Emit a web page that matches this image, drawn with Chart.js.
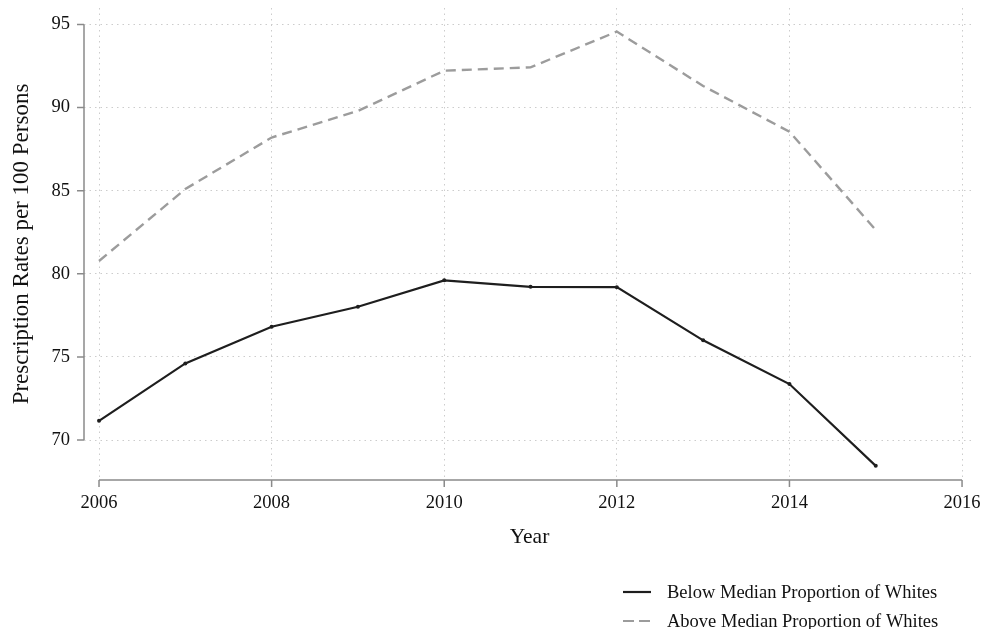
<!DOCTYPE html>
<html>
<head>
<meta charset="utf-8">
<script src="https://cdn.jsdelivr.net/npm/chart.js@4/dist/chart.umd.min.js"></script>
<style>
  html, body { margin: 0; padding: 0; background: #fff; }
  #wrap { width: 981px; height: 629px; position: relative; }
</style>
</head>
<body>
<div id="wrap"><canvas id="c" width="981" height="629"></canvas></div>
<script>
// Prescription rates per 100 persons, by county group
const years = [2006, 2007, 2008, 2009, 2010, 2011, 2012, 2013, 2014, 2015];
const belowMedian = [71.16, 74.61, 76.82, 78.02, 79.61, 79.22, 79.20, 76.00, 73.37, 68.45];
const aboveMedian = [80.77, 85.10, 88.20, 89.80, 92.22, 92.42, 94.57, 91.30, 88.55, 82.64];
const xTicks = [2006, 2008, 2010, 2012, 2014, 2016];
const yTicks = [70, 75, 80, 85, 90, 95];
const seriesNames = ['Below Median Proportion of Whites', 'Above Median Proportion of Whites'];
const xTitle = 'Year';
const yTitle = 'Prescription Rates per 100 Persons';

const SERIF = '"Liberation Serif", "Times New Roman", serif';
const INK = '#111111';
const AXIS = '#8a8a8a';
const GRID = '#cccccc';
const DARK = '#1e1e1e';
const LIGHT = '#9c9c9c';

// Stata-style axes: lines only between the first and last tick, with outward tick marks
const stataAxes = {
  id: 'stataAxes',
  afterDraw(chart) {
    const { ctx, chartArea, scales } = chart;
    const x = scales.x, y = scales.y;
    ctx.save();
    ctx.strokeStyle = AXIS;
    ctx.lineWidth = 1.5;
    ctx.beginPath();
    const yTop = y.getPixelForValue(yTicks[yTicks.length - 1]);
    const yBot = y.getPixelForValue(yTicks[0]);
    ctx.moveTo(chartArea.left, yTop);
    ctx.lineTo(chartArea.left, yBot);
    yTicks.forEach(v => {
      const p = y.getPixelForValue(v);
      ctx.moveTo(chartArea.left - 7, p);
      ctx.lineTo(chartArea.left, p);
    });
    const xL = x.getPixelForValue(xTicks[0]);
    const xR = x.getPixelForValue(xTicks[xTicks.length - 1]);
    ctx.moveTo(xL, chartArea.bottom);
    ctx.lineTo(xR, chartArea.bottom);
    xTicks.forEach(v => {
      const p = x.getPixelForValue(v);
      ctx.moveTo(p, chartArea.bottom);
      ctx.lineTo(p, chartArea.bottom + 7);
    });
    ctx.stroke();
    ctx.restore();
  }
};

// Stacked legend in the lower right corner
const stackedLegend = {
  id: 'stackedLegend',
  afterDraw(chart) {
    const { ctx } = chart;
    const rows = [
      { y: 592, color: DARK, dash: [], width: 2.2 },
      { y: 621, color: LIGHT, dash: [11, 5], width: 2.2 }
    ];
    ctx.save();
    rows.forEach((r, i) => {
      ctx.beginPath();
      ctx.strokeStyle = r.color;
      ctx.lineWidth = r.width;
      ctx.setLineDash(r.dash);
      ctx.moveTo(623, r.y);
      ctx.lineTo(651, r.y);
      ctx.stroke();
      ctx.setLineDash([]);
      ctx.fillStyle = INK;
      ctx.font = '18.5px ' + SERIF;
      ctx.textBaseline = 'middle';
      ctx.textAlign = 'left';
      ctx.fillText(seriesNames[i], 667, r.y + 1);
    });
    ctx.restore();
  }
};

const plainYear = v => String(v);

new Chart(document.getElementById('c'), {
  type: 'line',
  data: {
    datasets: [
      {
        label: seriesNames[0],
        data: years.map((yr, i) => ({ x: yr, y: belowMedian[i] })),
        borderColor: DARK,
        backgroundColor: DARK,
        borderWidth: 2.2,
        pointRadius: 2,
        pointBorderWidth: 0,
        tension: 0
      },
      {
        label: seriesNames[1],
        data: years.map((yr, i) => ({ x: yr, y: aboveMedian[i] })),
        borderColor: LIGHT,
        backgroundColor: LIGHT,
        borderWidth: 2.4,
        borderDash: [10, 6],
        pointRadius: 0,
        tension: 0
      }
    ]
  },
  options: {
    responsive: false,
    animation: false,
    devicePixelRatio: 1,
    layout: { padding: { left: 0, top: 8, right: 6, bottom: 79 } },
    plugins: { legend: { display: false }, tooltip: { enabled: false } },
    scales: {
      x: {
        type: 'linear',
        min: 2005.826,
        max: 2016.15,
        afterBuildTicks: s => { s.ticks = xTicks.map(v => ({ value: v })); },
        afterFit: s => { s.height = 70; s.paddingLeft = 0; s.paddingRight = 0; },
        grid: { color: GRID, lineWidth: 1, drawTicks: false },
        border: { display: false, dash: [1.5, 4] },
        ticks: { color: INK, font: { family: SERIF, size: 18.5 }, padding: 12, maxRotation: 0, autoSkip: false, callback: plainYear },
        title: { display: true, text: xTitle, color: INK, font: { family: SERIF, size: 21.5 }, padding: { top: 0, bottom: 0 } }
      },
      y: {
        type: 'linear',
        min: 67.6,
        max: 95.99,
        afterBuildTicks: s => { s.ticks = yTicks.map(v => ({ value: v })); },
        afterFit: s => { s.width = 84; s.paddingTop = 0; s.paddingBottom = 0; },
        grid: { color: GRID, lineWidth: 1, drawTicks: false },
        border: { display: false, dash: [1.5, 4] },
        ticks: { color: INK, font: { family: SERIF, size: 18.5 }, padding: 14, autoSkip: false },
        title: { display: true, text: yTitle, color: INK, font: { family: SERIF, size: 23 }, padding: { top: 8, bottom: 0 } }
      }
    }
  },
  plugins: [stataAxes, stackedLegend]
});
</script>
</body>
</html>
